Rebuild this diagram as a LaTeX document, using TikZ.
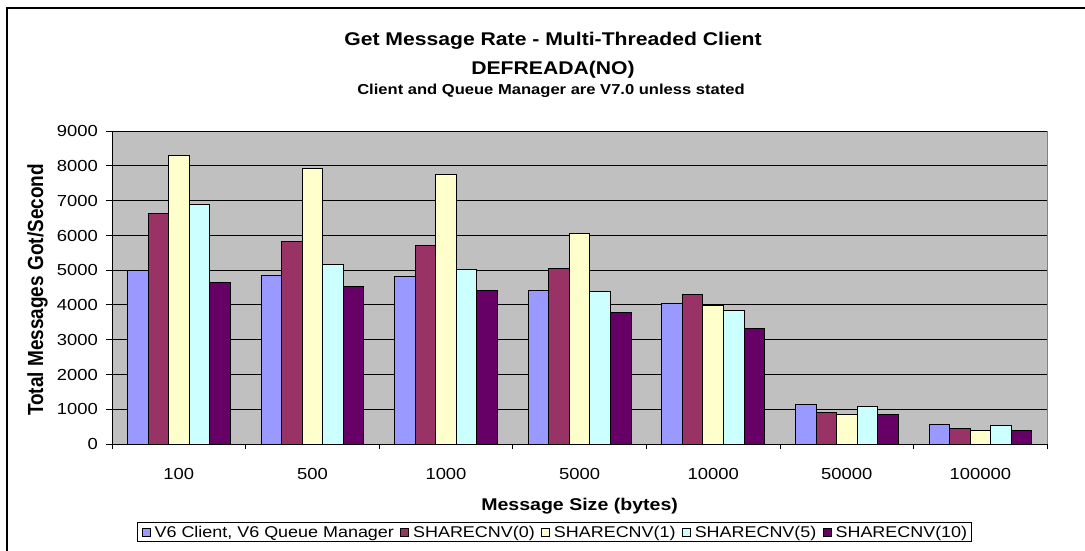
\documentclass[tikz,border=0pt]{standalone}
\usepackage{fontspec}
\setmainfont[FakeStretch=1.15]{Liberation Sans}
\newfontfamily\narrowsans{Liberation Sans}
\usetikzlibrary{positioning,fit}

\definecolor{series0}{HTML}{9999FF}
\definecolor{series1}{HTML}{993366}
\definecolor{series2}{HTML}{FFFFCC}
\definecolor{series3}{HTML}{CCFFFF}
\definecolor{series4}{HTML}{660066}
\definecolor{plotbg}{HTML}{C0C0C0}
\definecolor{axisgray}{HTML}{808080}

\tikzset{
  gridline/.style={black, line width=0.9pt},
  bar/.style={draw=black, line width=0.9pt},
  axisline/.style={black, line width=0.9pt},
  ticklab/.style={font=\fontsize{16}{19}\selectfont, inner sep=0pt},
  titlefont/.style={font=\bfseries\fontsize{18.4}{22}\selectfont, inner sep=0pt},
  legsq/.style={draw=black, line width=0.8pt, minimum size=8pt, inner sep=0pt},
  legtxt/.style={font=\fontsize{15.6}{18}\selectfont, inner sep=0pt,
                 text height=11.2pt, text depth=0pt},
}

\begin{document}
\begin{tikzpicture}[x=1pt,y=-1pt]
\useasboundingbox (0,0) rectangle (1085,551);
\fill[white] (0,0) rectangle (1085,551);

% chart frame (top and left edges)
\draw[black, line width=1.8pt] (7,560) -- (7,8) -- (1090,8);

% titles
\node[titlefont, anchor=base] (title) at (553,46) {Get Message Rate - Multi-Threaded Client};
\node[titlefont, anchor=base] (subtitle) at (553,74.5) {DEFREADA(NO)};
\node[font=\bfseries\fontsize{14.4}{17}\selectfont, inner sep=0pt, anchor=base] (note)
  at (551,94.5) {Client and Queue Manager are V7.0 unless stated};

% plot area
\fill[plotbg] (112,131) rectangle (1047.3,444);
\foreach \v in {1,...,9}
  \draw[gridline] (112,{444-34.78*\v}) -- (1047.3,{444-34.78*\v});

% bars: one group per message size, one bar per configuration
\foreach \vals [count=\i from 0] in {
    {5000,6640,8297,6897,4642},
    {4844,5813,7914,5161,4537},
    {4815,5698,7760,5007,4412},
    {4412,5045,6043,4374,3770},
    {4029,4307,3980,3827,3329},
    {1151,921,844,1084,844},
    {576,460,384,537,384}}{
  \foreach \v [count=\k from 0] in \vals {
    \pgfmathsetmacro{\xl}{112+133.6*\i+15.42+20.55*\k}
    \pgfmathsetmacro{\yt}{444-0.03478*\v}
    \filldraw[bar, fill=series\k] (\xl,444) rectangle ({\xl+20.55},\yt);
  }
}

% axes
\draw[axisgray, line width=0.9pt] (1047.3,131) -- (1047.3,444);
\draw[axisline] (112,131) -- (112,444) -- (1047.3,444);
\foreach \v in {0,...,9}
  \draw[axisline] (106,{444-34.78*\v}) -- (112,{444-34.78*\v});
\foreach \i in {0,...,7}
  \draw[axisline] ({112+133.6*\i},444) -- ++(0,5);

% value axis labels
\foreach \v/\t in {0/0,1/1000,2/2000,3/3000,4/4000,5/5000,6/6000,7/7000,8/8000,9/9000}
  \node[ticklab, anchor=base east] (ylab\v) at (98,{444-34.78*\v+5.7}) {\t};

% category labels
\foreach \t [count=\i from 0] in {100,500,1000,5000,10000,50000,100000}
  \node[ticklab, anchor=base] (xlab\i) at ({112+133.6*\i+66.8},479) {\t};

% axis titles
\node[font=\narrowsans\bfseries\fontsize{19}{22}\selectfont, inner sep=0pt, rotate=90, anchor=base]
  (ytitle) at (43,290) {\scalebox{1}[1.15]{Total Messages Got/Second}};
\node[font=\bfseries\fontsize{17}{20}\selectfont, inner sep=0pt, anchor=base]
  (xtitle) at (579.6,510.5) {Message Size (bytes)};

% legend
\node[legsq, fill=series0] (k0) at (146,532) {};
\node[legtxt, right=4pt of k0] (l0) {V6 Client, V6 Queue Manager};
\node[legsq, fill=series1, right=6pt of l0] (k1) {};
\node[legtxt, right=4pt of k1] (l1) {SHARECNV(0)};
\node[legsq, fill=series2, right=6pt of l1] (k2) {};
\node[legtxt, right=4pt of k2] (l2) {SHARECNV(1)};
\node[legsq, fill=series3, right=6pt of l2] (k3) {};
\node[legtxt, right=4pt of k3] (l3) {SHARECNV(5)};
\node[legsq, fill=series4, right=6pt of l3] (k4) {};
\node[legtxt, right=4pt of k4] (l4) {SHARECNV(10)};
\node[draw=black, line width=0.9pt, fit=(k0)(l4), inner xsep=4pt, inner ysep=4pt] (legend) {};
\end{tikzpicture}
\end{document}
